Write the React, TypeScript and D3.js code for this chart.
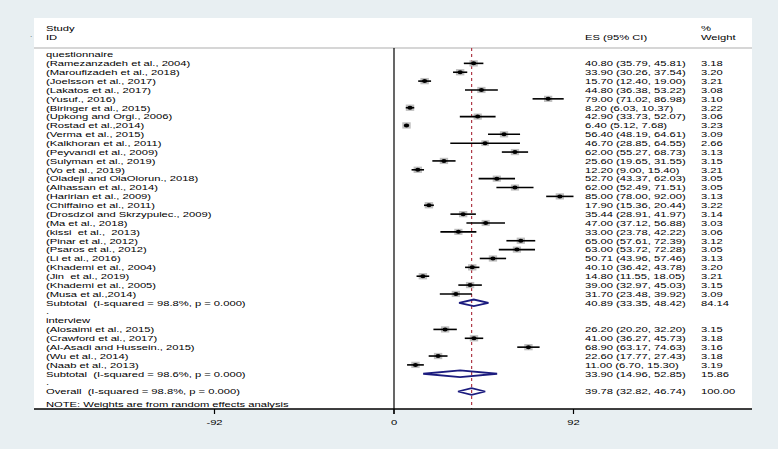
import React from "react";
import * as d3 from "d3";

// questionnaire studies
const qStudies = [
  "(Ramezanzadeh et al., 2004)", "(Maroufizadeh et al., 2018)", "(Joelsson et al., 2017)",
  "(Lakatos et al., 2017)", "(Yusuf., 2016)", "(Biringer et al., 2015)",
  "(Upkong and Orgi., 2006)", "(Rostad et al.,2014)", "(Verma et al., 2015)",
  "(Kalkhoran et al., 2011)", "(Peyvandi et al., 2009)", "(Sulyman et al., 2019)",
  "(Vo et al., 2019)", "(Oladeji and OlaOlorun., 2018)", "(Alhassan et al., 2014)",
  "(Haririan et al., 2009)", "(Chiffaino et al., 2011)", "(Drosdzol and Skrzypulec., 2009)",
  "(Ma et al., 2018)", "(kissi  et al.,  2013)", "(Pinar et al., 2012)",
  "(Psaros et al., 2012)", "(Li et al., 2016)", "(Khademi et al., 2004)",
  "(Jin  et al., 2019)", "(Khademi et al., 2005)", "(Musa et al.,2014)",
];
const qEs = [40.8, 33.9, 15.7, 44.8, 79.0, 8.2, 42.9, 6.4, 56.4, 46.7, 62.0, 25.6, 12.2, 52.7, 62.0, 85.0, 17.9, 35.44, 47.0, 33.0, 65.0, 63.0, 50.71, 40.1, 14.8, 39.0, 31.7];
const qLo = [35.79, 30.26, 12.4, 36.38, 71.02, 6.03, 33.73, 5.12, 48.19, 28.85, 55.27, 19.65, 9.0, 43.37, 52.49, 78.0, 15.36, 28.91, 37.12, 23.78, 57.61, 53.72, 43.96, 36.42, 11.55, 32.97, 23.48];
const qHi = [45.81, 37.54, 19.0, 53.22, 86.98, 10.37, 52.07, 7.68, 64.61, 64.55, 68.73, 31.55, 15.4, 62.03, 71.51, 92.0, 20.44, 41.97, 56.88, 42.22, 72.39, 72.28, 57.46, 43.78, 18.05, 45.03, 39.92];
const qWeight = [3.18, 3.2, 3.21, 3.08, 3.1, 3.22, 3.06, 3.23, 3.09, 2.66, 3.13, 3.15, 3.21, 3.05, 3.05, 3.13, 3.22, 3.14, 3.03, 3.06, 3.12, 3.05, 3.13, 3.2, 3.21, 3.15, 3.09];

// interview studies
const iStudies = [
  "(Alosaimi et al., 2015)", "(Crawford et al., 2017)", "(Al-Asadi and Hussein., 2015)",
  "(Wu et al., 2014)", "(Naab et al., 2013)",
];
const iEs = [26.2, 41.0, 68.9, 22.6, 11.0];
const iLo = [20.2, 36.27, 63.17, 17.77, 6.7];
const iHi = [32.2, 45.73, 74.63, 27.43, 15.3];
const iWeight = [3.15, 3.18, 3.16, 3.18, 3.19];

// pooled estimates: [label, es, lo, hi, weight]
const subQ: [string, number, number, number, number] = ["Subtotal  (I-squared = 98.8%, p = 0.000)", 40.89, 33.35, 48.42, 84.14];
const subI: [string, number, number, number, number] = ["Subtotal  (I-squared = 98.6%, p = 0.000)", 33.9, 14.96, 52.85, 15.86];
const overall: [string, number, number, number, number] = ["Overall  (I-squared = 98.8%, p = 0.000)", 39.78, 32.82, 46.74, 100.0];

const xTicks = [-92, 0, 92];

const fmt = (v: number) => v.toFixed(2);

type Row =
  | { kind: "label"; text: string }
  | { kind: "study"; text: string; es: number; lo: number; hi: number; w: number }
  | { kind: "pooled"; text: string; es: number; lo: number; hi: number; w: number };

const rows: Row[] = [];
rows.push({ kind: "label", text: "questionnaire" });
qStudies.forEach((s, i) => rows.push({ kind: "study", text: s, es: qEs[i], lo: qLo[i], hi: qHi[i], w: qWeight[i] }));
rows.push({ kind: "pooled", text: subQ[0], es: subQ[1], lo: subQ[2], hi: subQ[3], w: subQ[4] });
rows.push({ kind: "label", text: "." });
rows.push({ kind: "label", text: "interview" });
iStudies.forEach((s, i) => rows.push({ kind: "study", text: s, es: iEs[i], lo: iLo[i], hi: iHi[i], w: iWeight[i] }));
rows.push({ kind: "pooled", text: subI[0], es: subI[1], lo: subI[2], hi: subI[3], w: subI[4] });
rows.push({ kind: "label", text: "." });
rows.push({ kind: "pooled", text: overall[0], es: overall[1], lo: overall[2], hi: overall[3], w: overall[4] });

const FONT = "'Liberation Sans', Arial, Helvetica, sans-serif";
const SX = 1.4; // the original graph is stretched horizontally

function T({ x, y, children, anchor = "start", size = 8 }: any) {
  return (
    <g transform={`translate(${x},${y}) scale(${SX},1)`}>
      <text x={0} y={0} dy="0.35em" fontSize={size} fontFamily={FONT} fill="#000" textAnchor={anchor} style={{ whiteSpace: "pre" }}>
        {children}
      </text>
    </g>
  );
}

export default function App() {
  const W = 778;
  const H = 449;
  const panel = { x: 34, y: 18, w: 718, h: 391 };
  const axisY = 409;
  const topLine = 48;

  const x = d3.scaleLinear().domain([-92, 92]).range([214.5, 573.5]);
  const y = d3.scaleLinear().domain([0, rows.length - 1]).range([54.5, 391.5]);

  const textX = 46;
  const esX = 585;
  const wX = 701;

  const diamond = (r: Row & { es: number }, cy: number) => {
    const h = 3.3;
    return d3.line()([
      [x(r.lo), cy],
      [x(r.es), cy - h],
      [x(r.hi), cy],
      [x(r.es), cy + h],
    ]) + "Z";
  };

  return (
    <svg width={W} height={H} style={{ position: "absolute", left: 0, top: 0 }}>
      <rect x={0} y={0} width={W} height={H} fill="#e8eff2" />
      <rect x={panel.x} y={panel.y} width={panel.w} height={panel.h} fill="#ffffff" />

      {/* header */}
      <text x={30} y={37} fontSize={8} fontFamily={FONT} fill="#555">.</text>
      <T x={textX} y={28}>Study</T>
      <T x={textX} y={37}>ID</T>
      <T x={esX} y={37}>ES (95% CI)</T>
      <T x={wX} y={28}>%</T>
      <T x={wX} y={37}>Weight</T>
      <line x1={panel.x} x2={panel.x + panel.w} y1={topLine} y2={topLine} stroke="#c9c9c9" strokeWidth={1.5} />

      {/* zero line and overall effect */}
      <line x1={x(0)} x2={x(0)} y1={topLine} y2={axisY + 5} stroke="#000" strokeWidth={1.2} />
      <line x1={x(overall[1])} x2={x(overall[1])} y1={topLine} y2={axisY} stroke="#b03a48" strokeWidth={1.2} strokeDasharray="3,3" />

      {rows.map((r, i) => {
        const cy = y(i);
        if (r.kind === "label") {
          return <T key={i} x={textX} y={cy}>{r.text}</T>;
        }
        const side = 7 * Math.sqrt(r.w / 3.2);
        return (
          <g key={i}>
            <T x={textX} y={cy}>{r.text}</T>
            <T x={esX} y={cy}>{`${fmt(r.es)} (${fmt(r.lo)}, ${fmt(r.hi)})`}</T>
            <T x={wX} y={cy}>{fmt(r.w)}</T>
            {r.kind === "study" ? (
              <g>
                <rect x={x(r.es) - side * 0.6} y={cy - side * 0.45} width={side * 1.2} height={side * 0.9} fill="#b4b4b4" opacity={0.85} />
                <line x1={x(r.lo)} x2={x(r.hi)} y1={cy} y2={cy} stroke="#000" strokeWidth={1.6} />
                <ellipse cx={x(r.es)} cy={cy} rx={2.6} ry={2} fill="#000" />
              </g>
            ) : (
              <path d={diamond(r as any, cy)} fill="none" stroke="#1b1b7e" strokeWidth={1.8} />
            )}
          </g>
        );
      })}

      <T x={textX} y={404}>NOTE: Weights are from random effects analysis</T>

      {/* axis */}
      <line x1={panel.x} x2={panel.x + panel.w} y1={axisY} y2={axisY} stroke="#000" strokeWidth={1.3} />
      {xTicks.map((t) => (
        <g key={t}>
          <line x1={x(t)} x2={x(t)} y1={axisY} y2={axisY + 5} stroke="#000" strokeWidth={1.2} />
          <T x={x(t)} y={422} anchor="middle">{String(t)}</T>
        </g>
      ))}
    </svg>
  );
}
